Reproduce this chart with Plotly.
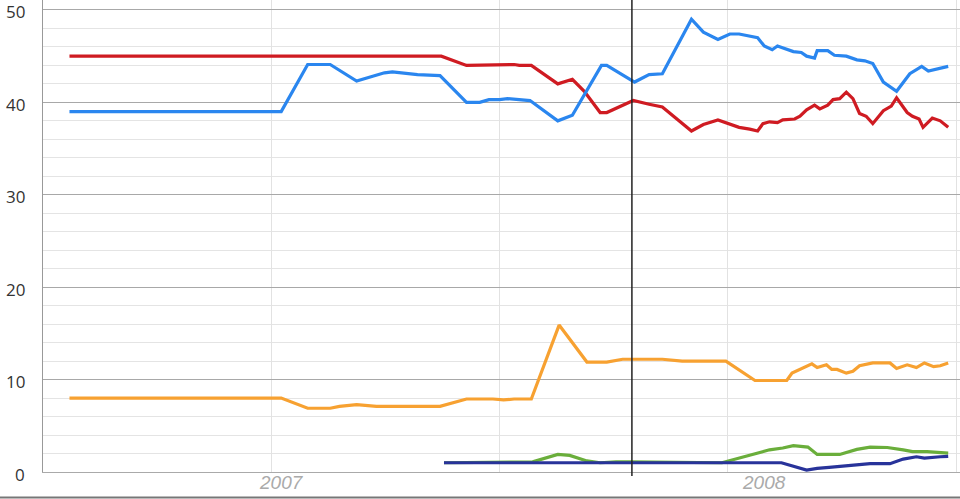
import plotly.graph_objects as go

# ---- data ----
blue_x = ["2006-08-01", "2007-01-08", "2007-01-28", "2007-02-14", "2007-03-06", "2007-03-27",
          "2007-04-02", "2007-04-21", "2007-05-08", "2007-05-28", "2007-06-07", "2007-06-14",
          "2007-06-22", "2007-06-28", "2007-07-15", "2007-08-05", "2007-08-16", "2007-09-07",
          "2007-09-11", "2007-09-21", "2007-10-02", "2007-10-13", "2007-10-23", "2007-11-14",
          "2007-11-23", "2007-12-04", "2007-12-13", "2007-12-20", "2007-12-26", "2008-01-03",
          "2008-01-08", "2008-01-14", "2008-01-18", "2008-01-30", "2008-02-05", "2008-02-09",
          "2008-02-15", "2008-02-17", "2008-02-25", "2008-03-01", "2008-03-10", "2008-03-18",
          "2008-03-24", "2008-03-30", "2008-04-07", "2008-04-17", "2008-04-27", "2008-05-06",
          "2008-05-11", "2008-05-20", "2008-05-26"]
blue_y = [39.0, 39.0, 44.1, 44.1, 42.3, 43.2,
          43.3, 43.0, 42.9, 40.0, 40.0, 40.3,
          40.3, 40.4, 40.2, 38.0, 38.6, 44.0,
          44.0, 43.1, 42.2, 43.0, 43.1, 49.0,
          47.6, 46.8, 47.4, 47.4, 47.2, 47.0,
          46.1, 45.7, 46.1, 45.5, 45.4, 45.0,
          44.8, 45.6, 45.6, 45.1, 45.0, 44.6,
          44.5, 44.2, 42.2, 41.2, 43.1, 43.9,
          43.4, 43.7, 43.9]

red_x = ["2006-08-01", "2007-05-09", "2007-05-28", "2007-06-17", "2007-07-03", "2007-07-07",
         "2007-07-16", "2007-08-05", "2007-08-16", "2007-08-25", "2007-09-06", "2007-09-11",
         "2007-10-01", "2007-10-13", "2007-10-23", "2007-11-14", "2007-11-23", "2007-12-04",
         "2007-12-13", "2007-12-20", "2007-12-28", "2008-01-03", "2008-01-07", "2008-01-12",
         "2008-01-18", "2008-01-22", "2008-01-31", "2008-02-04", "2008-02-09", "2008-02-15",
         "2008-02-19", "2008-02-25", "2008-02-29", "2008-03-05", "2008-03-10", "2008-03-15",
         "2008-03-20", "2008-03-25", "2008-03-30", "2008-04-07", "2008-04-13", "2008-04-17",
         "2008-04-25", "2008-04-29", "2008-05-04", "2008-05-07", "2008-05-14", "2008-05-20",
         "2008-05-26"]
red_y = [45.0, 45.0, 44.0, 44.1, 44.1, 44.0,
         44.0, 42.0, 42.5, 41.2, 38.9, 38.9,
         40.2, 39.8, 39.5, 36.9, 37.6, 38.1,
         37.6, 37.3, 37.1, 36.9, 37.7, 37.9,
         37.8, 38.1, 38.2, 38.5, 39.2, 39.7,
         39.3, 39.7, 40.3, 40.4, 41.1, 40.4,
         38.8, 38.5, 37.7, 39.1, 39.6, 40.5,
         38.9, 38.5, 38.2, 37.3, 38.3, 38.0,
         37.3]

orange_x = ["2006-08-01", "2007-01-08", "2007-01-28", "2007-02-14", "2007-02-21", "2007-03-06",
            "2007-03-21", "2007-05-08", "2007-05-28", "2007-06-17", "2007-06-25", "2007-07-03",
            "2007-07-16", "2007-08-06", "2007-08-27", "2007-09-11", "2007-09-23", "2007-10-06",
            "2007-10-23", "2007-11-07", "2007-12-10", "2008-01-01", "2008-01-25", "2008-01-29",
            "2008-02-13", "2008-02-17", "2008-02-24", "2008-02-28", "2008-03-03", "2008-03-10",
            "2008-03-15", "2008-03-20", "2008-03-30", "2008-04-12", "2008-04-17", "2008-04-25",
            "2008-05-02", "2008-05-08", "2008-05-15", "2008-05-20", "2008-05-26"]
orange_y = [8.0, 8.0, 6.9, 6.9, 7.1, 7.3,
            7.1, 7.1, 7.9, 7.9, 7.8, 7.9,
            7.9, 15.9, 11.9, 11.9, 12.2, 12.2,
            12.2, 12.0, 12.0, 9.9, 9.9, 10.7,
            11.7, 11.3, 11.6, 11.1, 11.1, 10.7,
            10.9, 11.5, 11.8, 11.8, 11.2, 11.6,
            11.3, 11.8, 11.4, 11.5, 11.8]

green_x = ["2007-05-11", "2007-07-17", "2007-08-05", "2007-08-14", "2007-08-27", "2007-09-06",
           "2007-09-18", "2007-09-28", "2007-12-07", "2007-12-20", "2008-01-03", "2008-01-12",
           "2008-01-22", "2008-01-30", "2008-02-10", "2008-02-17", "2008-03-05", "2008-03-18",
           "2008-03-28", "2008-04-10", "2008-04-22", "2008-04-29", "2008-05-10", "2008-05-20",
           "2008-05-26"]
green_y = [1.0, 1.1, 1.9, 1.8, 1.2, 1.0,
           1.1, 1.1, 1.0, 1.5, 2.0, 2.4,
           2.6, 2.85, 2.7, 1.9, 1.9, 2.45,
           2.7, 2.65, 2.4, 2.2, 2.2, 2.1,
           2.05]

navy_x = ["2007-05-11", "2008-01-21", "2008-02-09", "2008-02-17", "2008-02-26", "2008-03-07",
          "2008-03-18", "2008-03-28", "2008-04-12", "2008-04-22", "2008-05-02", "2008-05-08",
          "2008-05-20", "2008-05-26"]
navy_y = [1.0, 1.0, 0.2, 0.4, 0.5, 0.65,
          0.8, 0.9, 0.9, 1.4, 1.65, 1.5,
          1.65, 1.7]

y_tick_vals = [0, 10, 20, 30, 40, 50]
year_tick_vals = ["2007-01-08", "2008-01-08"]
year_tick_text = ["2007", "2008"]
x_grid_vals = ["2007-01-01", "2007-06-22", "2007-12-11", "2008-06-01"]
marker_date = "2007-09-30"

# ---- figure ----
series = [
    (red_x, red_y, "#cf1b22"),
    (blue_x, blue_y, "#2a86ef"),
    (orange_x, orange_y, "#f7a131"),
    (green_x, green_y, "#6aae3b"),
    (navy_x, navy_y, "#28339a"),
]

fig = go.Figure()
for xs, ys, col in series:
    fig.add_trace(go.Scatter(x=xs, y=ys, mode="lines",
                             line=dict(color=col, width=3.2),
                             hoverinfo="skip", showlegend=False, cliponaxis=False))

annotations = []
for v in y_tick_vals:
    annotations.append(dict(x=0, xref="paper", y=v, yref="y", text=str(v),
                            showarrow=False, xanchor="right", yanchor="middle",
                            xshift=-17, yshift=-2, borderpad=0,
                            font=dict(family="Open Sans", size=17, color="#333333")))
for xv, txt in zip(year_tick_vals, year_tick_text):
    annotations.append(dict(x=xv, xref="x", y=0, yref="paper", text=txt,
                            showarrow=False, xanchor="center", yanchor="middle",
                            yshift=-10, borderpad=0,
                            font=dict(family="Liberation Sans, Arial", size=19,
                                      color="#aaaaaa", style="italic")))

fig.update_layout(
    width=960, height=499,
    margin=dict(l=43, r=0, t=0, b=27, autoexpand=False),
    paper_bgcolor="white", plot_bgcolor="white",
    showlegend=False,
    annotations=annotations,
    xaxis=dict(
        type="date", automargin=False,
        range=["2006-07-12", "2008-06-03 22:00"],
        tickmode="array", tickvals=x_grid_vals, showticklabels=False,
        ticks="", showgrid=True, gridcolor="#e2e2e2", gridwidth=1,
        zeroline=False,
        showline=True, linecolor="#aaaaaa", linewidth=1,
        fixedrange=True,
    ),
    yaxis=dict(
        automargin=False,
        range=[0, 51.08],
        tickmode="array", tickvals=y_tick_vals, showticklabels=False,
        ticks="",
        showgrid=True, gridcolor="#a8a8a8", gridwidth=1,
        zeroline=False,
        showline=True, linecolor="#999999", linewidth=1,
        minor=dict(dtick=2, tick0=0, tickmode="linear", showgrid=True,
                   gridcolor="#e4e4e4", gridwidth=1),
        fixedrange=True,
    ),
    shapes=[
        dict(type="line", xref="x", yref="paper", x0=marker_date, x1=marker_date,
             y0=-4 / 472, y1=1, line=dict(color="#222222", width=1.5), layer="above"),
        dict(type="line", xref="paper", yref="paper", x0=-43 / 917, x1=1,
             y0=-25.5 / 472, y1=-25.5 / 472, line=dict(color="#777777", width=2)),
    ],
)

fig.write_html("out.html", config={"displayModeBar": False},
               post_script="document.body.style.margin='0';document.body.style.overflow='hidden';")
